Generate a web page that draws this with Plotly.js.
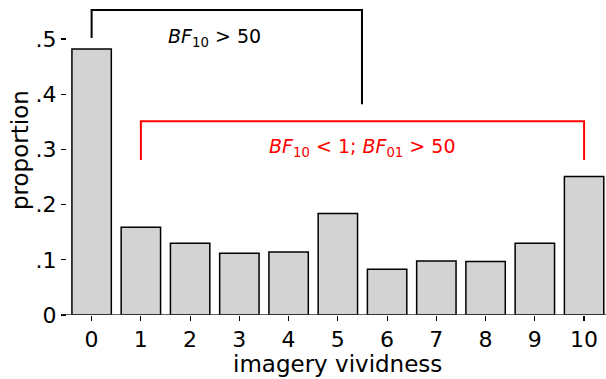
<!DOCTYPE html>
<html>
<head>
<meta charset="utf-8">
<script src="https://cdn.plot.ly/plotly-3.0.1.min.js"></script>
<style>html,body{margin:0;padding:0;background:#fff;}#chart{width:606px;height:379px;}</style>
</head>
<body>
<div id="chart"></div>
<script>
var vividness = [0, 1, 2, 3, 4, 5, 6, 7, 8, 9, 10];
var proportion = [0.482, 0.159, 0.130, 0.112, 0.114, 0.184, 0.083, 0.098, 0.097, 0.130, 0.251];
var yTickVals = [0, 0.1, 0.2, 0.3, 0.4, 0.5];
var yTickText = ["0", ".1", ".2", ".3", ".4", ".5"];

var F = "DejaVu Sans, sans-serif";
var trace = {
  type: "bar",
  x: vividness,
  y: proportion,
  width: 0.8,
  marker: {color: "#d3d3d3", line: {color: "#000000", width: 1.5}},
  hoverinfo: "skip"
};
var layout = {
  width: 606, height: 379,
  margin: {l: 67, r: 0, t: 5, b: 64},
  paper_bgcolor: "#ffffff", plot_bgcolor: "#ffffff",
  showlegend: false,
  font: {family: F, size: 22, color: "#000"},
  xaxis: {
    range: [-0.5, 10.445],
    tickvals: vividness,
    ticktext: vividness.map(String),
    ticks: "outside", ticklen: 5, tickwidth: 1.2, tickcolor: "#000",
    showgrid: false, zeroline: false, showline: false,
    tickfont: {family: F, size: 22}
  },
  yaxis: {
    range: [0, 0.5616],
    tickvals: yTickVals,
    ticktext: yTickText,
    ticks: "outside", ticklen: 5, tickwidth: 1.2, tickcolor: "#000",
    showgrid: false, zeroline: false, showline: false,
    tickfont: {family: F, size: 22}
  },
  shapes: [
    {type: "line", xref: "paper", yref: "y", x0: -0.0093, x1: 1, y0: 0, y1: 0, line: {color: "#333", width: 1.5}},
    {type: "path", xref: "x", yref: "y", path: "M 0 0.502 L 0 0.5525 L 5.49 0.5525 L 5.49 0.382", line: {color: "#000", width: 2}},
    {type: "path", xref: "x", yref: "y", path: "M 1 0.281 L 1 0.351 L 10 0.351 L 10 0.281", line: {color: "#ff0000", width: 2}}
  ],
  annotations: [
    {x: 337, y: 364, xref: "paper", yref: "paper", showarrow: false,
     text: "imagery vividness", font: {family: F, size: 23, color: "#000"}, _px: true},
    {x: 20, y: 150, xref: "paper", yref: "paper", showarrow: false, textangle: -90,
     text: "proportion", font: {family: F, size: 23, color: "#000"}, _px: true},
    {x: 2.5, y: 0.5036, xref: "x", yref: "y", showarrow: false,
     text: "<i>BF</i><sub>10</sub> > 50", font: {family: F, size: 19, color: "#000"}},
    {x: 5.5, y: 0.304, xref: "x", yref: "y", showarrow: false,
     text: "<i>BF</i><sub>10</sub> < 1; <i>BF</i><sub>01</sub> > 50", font: {family: F, size: 19, color: "#ff0000"}}
  ]
};
// convert pixel-positioned titles into paper coordinates
var plotW = 606 - 67, plotH = 379 - 5 - 64;
layout.annotations.forEach(function (a) {
  if (a._px) {
    a.x = (a.x - 67) / plotW;
    a.y = (379 - 64 - a.y) / plotH;
    a.xanchor = "center"; a.yanchor = "middle";
    delete a._px;
  }
});
Plotly.newPlot("chart", [trace], layout, {staticPlot: true, displayModeBar: false});
</script>
</body>
</html>
